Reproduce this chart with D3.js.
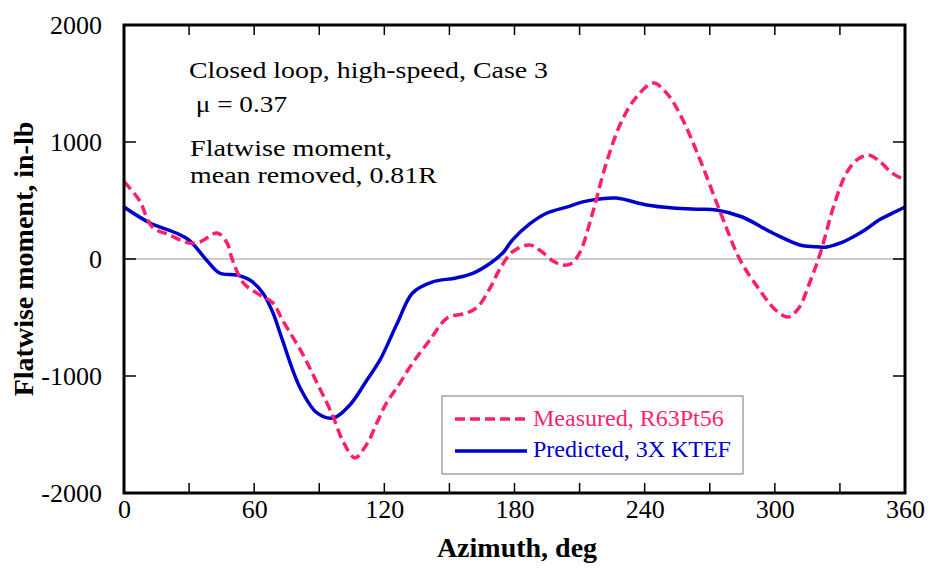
<!DOCTYPE html>
<html><head><meta charset="utf-8">
<script src="https://cdn.jsdelivr.net/npm/d3@7"></script>
<style>body{margin:0;background:#fff}svg{display:block}</style>
</head><body>
<svg id="c" width="930" height="569"></svg>
<script>
const measuredAz = [0,7,13,21,30,35,43,47.5,50,55,62.7,68.7,73,82,89,96,101,106.5,112,116.6,121,126,133,141,149,158,163,169,173,179,187,192,198,202,206,210,216,222,229,236,244,250,256,265,275,284,293,300,306,311,316,321,327,333,338,343,348,354,360];
const measuredVal = [660,504,274,205,137,145,222,137,-8,-205,-308,-376,-521,-800,-1060,-1330,-1560,-1700,-1580,-1400,-1230,-1094,-890,-692,-504,-462,-410,-239,-94,60,120,70,-20,-51,-40,51,393,800,1162,1380,1504,1420,1248,872,393,-8,-265,-430,-496,-420,-205,51,444,735,850,889,840,735,675];
const predictedAz = [0,12,24,30,38,44,52,58,64,68.7,73,81,89,96.5,104,112,118,126,133,142,153,161,169,175,179,187,195,204,212,219,227,241,253,265,273,285,299,311.5,318,324,330,336,342,348,354,360];
const predictedVal = [444,308,222,162,-8,-120,-137,-180,-290,-462,-692,-1094,-1316,-1359,-1250,-1034,-863,-547,-290,-197,-162,-120,-34,60,162,300,393,444,490,513,521,462,436,425,419,359,222,120,105,103,135,188,255,333,390,444];
const xTicks = [0,60,120,180,240,300,360];
const xMinor = [30,90,150,210,270,330];
const yTicks = [-2000,-1000,0,1000,2000];
const legendLabels = ["Measured, R63Pt56","Predicted, 3X KTEF"];
const notes = ["Closed loop, high-speed, Case 3"," \u03bc = 0.37","Flatwise moment,","mean removed, 0.81R"];

const svg = d3.select("#c");
const L=124,R=905,T=25,B=493;
const x = d3.scaleLinear().domain([0,360]).range([L,R]);
const y = d3.scaleLinear().domain([-2000,2000]).range([B,T]);
const font = "'Liberation Serif','Times New Roman',serif";

svg.append("line").attr("x1",L).attr("x2",R).attr("y1",y(0)).attr("y2",y(0)).attr("stroke","#999").attr("stroke-width",1.2);

svg.append("clipPath").attr("id","clip").append("rect").attr("x",L).attr("y",T).attr("width",R-L).attr("height",B-T);

const line = d3.line().x(d=>x(d[0])).y(d=>y(d[1])).curve(d3.curveCatmullRom.alpha(0.5));
const g = svg.append("g").attr("clip-path","url(#clip)");
g.append("path").datum(predictedAz.map((a,i)=>[a,predictedVal[i]])).attr("d",line)
 .attr("fill","none").attr("stroke","#0000cc").attr("stroke-width",3.5);
g.append("path").datum(measuredAz.map((a,i)=>[a,measuredVal[i]])).attr("d",line)
 .attr("fill","none").attr("stroke","#ff1f6f").attr("stroke-width",3.5).attr("stroke-dasharray","10,5");

const tick=10;
const axB = d3.axisBottom(x).tickValues(xTicks).tickSize(0).tickPadding(0).tickFormat(d=>String(d));
const axL = d3.axisLeft(y).tickValues(yTicks).tickSize(0).tickPadding(22).tickFormat(d=>String(d));
const gb = svg.append("g").attr("transform",`translate(0,${B})`).call(axB);
const gl = svg.append("g").attr("transform",`translate(${L},0)`).call(axL);
[gb,gl].forEach(a=>{a.select(".domain").remove();a.selectAll("text").attr("font-family",font).attr("font-size",26).attr("fill","#000");});
gl.selectAll("text").attr("dy","0.33em");
gb.selectAll("text").attr("y",25).attr("dy",0);

const allX = xTicks.concat(xMinor).filter(v=>v>0&&v<360);
svg.selectAll(".tb").data(allX).join("line").attr("x1",d=>x(d)).attr("x2",d=>x(d)).attr("y1",B).attr("y2",B-tick).attr("stroke","#000").attr("stroke-width",1.5);
svg.selectAll(".tt").data(allX).join("line").attr("x1",d=>x(d)).attr("x2",d=>x(d)).attr("y1",T).attr("y2",T+tick).attr("stroke","#000").attr("stroke-width",1.5);
const innerY = yTicks.filter(v=>v>-2000&&v<2000);
svg.selectAll(".tl").data(innerY).join("line").attr("x1",L).attr("x2",L+12).attr("y1",d=>y(d)).attr("y2",d=>y(d)).attr("stroke","#000").attr("stroke-width",1.5);
svg.selectAll(".tr").data(innerY).join("line").attr("x1",R).attr("x2",R-12).attr("y1",d=>y(d)).attr("y2",d=>y(d)).attr("stroke","#000").attr("stroke-width",1.5);

svg.append("rect").attr("x",L).attr("y",T).attr("width",R-L).attr("height",B-T).attr("fill","none").attr("stroke","#000").attr("stroke-width",3);

svg.append("text").attr("x",517).attr("y",557).attr("text-anchor","middle").attr("font-family",font).attr("font-weight","bold").attr("font-size",28).text("Azimuth, deg");
svg.append("text").attr("transform",`translate(33,${(T+B)/2}) rotate(-90)`).attr("text-anchor","middle").attr("font-family",font).attr("font-weight","bold").attr("font-size",28).text("Flatwise moment, in-lb");

const noteY=[78,112,156,183], noteW=[359,98,202,247], noteX=[189,189,190,190];
notes.forEach((t,i)=>{
  const tx = svg.append("text").attr("x",noteX[i]).attr("y",noteY[i]).attr("font-family",font).attr("font-size",24).style("white-space","pre").text(t);
  if(noteW[i]) tx.attr("textLength",noteW[i]).attr("lengthAdjust","spacingAndGlyphs");
});

svg.append("rect").attr("x",442).attr("y",396).attr("width",301).attr("height",78).attr("fill","#fff").attr("stroke","#777").attr("stroke-width",1);
const lc=["#ff1f6f","#0000cc"], ly=[419,451], ty=[426,457];
legendLabels.forEach((t,i)=>{
  svg.append("line").attr("x1",455).attr("x2",527).attr("y1",ly[i]).attr("y2",ly[i]).attr("stroke",lc[i]).attr("stroke-width",3.5).attr("stroke-dasharray",i==0?"10,5":null);
  svg.append("text").attr("x",533).attr("y",ty[i]).attr("font-family",font).attr("font-size",24).attr("fill",lc[i]).text(t);
});
</script>
</body></html>
